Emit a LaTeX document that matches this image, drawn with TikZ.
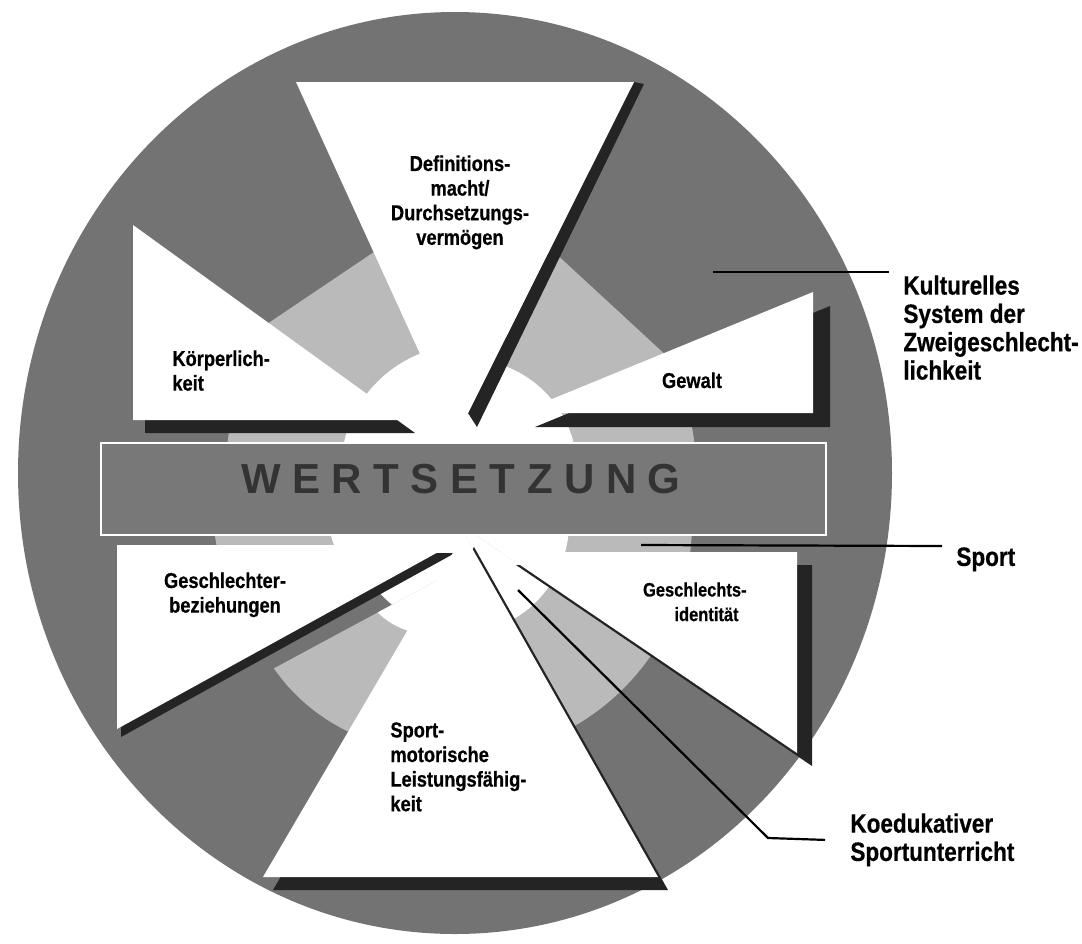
\documentclass[tikz,border=0pt]{standalone}
\usepackage{fontspec}
\setmainfont{Liberation Sans}
\newfontfamily\narrowfont{Liberation Sans}[FakeStretch=0.85,FakeBold=0.6]
\definecolor{ringdark}{gray}{0.45}
\definecolor{ringlight}{gray}{0.73}
\definecolor{bargray}{gray}{0.47}
\definecolor{shadowgray}{gray}{0.14}
\tikzset{
  inlabel/.style={inner sep=0pt,font=\narrowfont\bfseries\fontsize{10.75}{12.3}\selectfont},
  outlabel/.style={inner sep=0pt,align=left,anchor=north west,font=\narrowfont\bfseries\fontsize{13.25}{14.15}\selectfont},
  leader/.style={line width=1.1pt},
}
\newcommand{\bandring}[3]{\fill[ringlight]#1circle[radius=#2];\fill[white]#1circle[radius=#3];}
\newcommand{\wsp}{\kern5.75pt}
\begin{document}
\begin{tikzpicture}[x=0.5pt,y=-0.5pt]
\fill[white](0,0)rectangle(1082,943);
\useasboundingbox(0,0)rectangle(1082,943);
\fill[ringdark](455,473)ellipse[x radius=437,y radius=461];
\fill[white](458,523)circle[radius=105];
% rings seen between the cards
\begin{scope}\clip(0,0)rectangle(466,425);
  \fill[ringlight](169,390)--(429,215)--(466,470)--cycle;
  \fill[white](466,470)circle[radius=125];
\end{scope}
\begin{scope}\clip(466,0)rectangle(1082,420);
  \fill[ringlight](514,215)--(709,395)--(466,470)--cycle;
  \fill[white](466,470)circle[radius=111];
\end{scope}
\begin{scope}\clip(0,425)rectangle(466,443);\bandring{(466,470)}{240}{125}\end{scope}
\begin{scope}\clip(466,420)rectangle(1082,443);\bandring{(466,470)}{230}{111}\end{scope}
\begin{scope}\clip(100,535)rectangle(466,553);\bandring{(445,505)}{232}{118}\end{scope}
\begin{scope}\clip(466,535)rectangle(830,553);\bandring{(458,523)}{234}{111}\end{scope}
\begin{scope}\clip(458,523)--(753,1046)--(954,860)--cycle;\bandring{(458,523)}{234}{111}\end{scope}
\begin{scope}\clip(438,580)--(-2,817)--(185,1011)--cycle;\bandring{(430,560)}{190}{74}\end{scope}
% shadows
\fill[shadowgray](634,82)--(644,84)--(477,427)--(468,413)--cycle;
\fill[shadowgray,shift={(12,13)}](133,225)--(133,420)--(403,420)--cycle;
\fill[shadowgray,shift={(17,14)}](813,292)--(813,413)--(518,413)--cycle;
\fill[shadowgray,shift={(4,8)}](117,545)--(451,545)--(117,729)--cycle;
\fill[shadowgray,shift={(15,13)}](501,552)--(797,552)--(797,753)--cycle;
\fill[shadowgray,shift={(10,13)}](464,534)--(658,877)--(263,877)--cycle;
% cards
\fill[white](296,82)--(634,82)--(468,413)--(447,413)--cycle;
\fill[white](133,225)--(133,420)--(403,420)--cycle;
\fill[white](813,292)--(813,413)--(518,413)--cycle;
\fill[white](117,545)--(451,545)--(117,729)--cycle;
\fill[white](501,552)--(797,552)--(797,753)--cycle;
\fill[white](464,534)--(658,877)--(263,877)--cycle;
% bar
\draw[fill=bargray,draw=white,line width=0.8pt](101,443)rectangle(826,535);
\node[anchor=base,inner sep=0pt,text=black!80,font=\bfseries\fontsize{21}{24}\selectfont](wert)at(461,493){W\wsp E\wsp R\wsp T\wsp S\wsp E\wsp T\wsp Z\wsp U\wsp N\wsp G};
% labels
\node[inlabel,align=center,anchor=north](ldef)at(460,155){Definitions-\\macht/\\Durchsetzungs-\\vermögen};
\node[inlabel,align=left,anchor=north west](lkoerp)at(172,350){Körperlich-\\keit};
\node[inlabel,anchor=north](lgew)at(692,372){Gewalt};
\node[inlabel,align=center,anchor=north](lgb)at(225,572){Geschlechter-\\beziehungen};
\node[inlabel,font=\narrowfont\bfseries\fontsize{9.7}{12.3}\selectfont,align=right,anchor=north east](lgi)at(747,582){Geschlechts-\\identität\hspace*{4pt}};
\node[inlabel,align=left,anchor=north west](lspm)at(390,722){Sport-\\motorische\\Leistungsfähig-\\keit};
\node[outlabel](lkult)at(903,275){Kulturelles\\System der\\Zweigeschlecht-\\lichkeit};
\node[outlabel](lsport)at(956,547){Sport};
\node[outlabel](lkoed)at(850,813){Koedukativer\\Sportunterricht};
% leaders
\coordinate(kultA)at(713,272);
\coordinate(sportA)at(641,545);
\coordinate(koedA)at(518,590);
\coordinate(koedB)at(768,838);
\draw[leader](kultA)--([xshift=-7pt,yshift=1.5pt]lkult.north west);
\draw[leader](sportA)--([xshift=-7pt,yshift=0.5pt]lsport.north west);
\draw[leader](koedA)--(koedB)--([xshift=-12.5pt]lkoed.west);
\end{tikzpicture}
\end{document}
